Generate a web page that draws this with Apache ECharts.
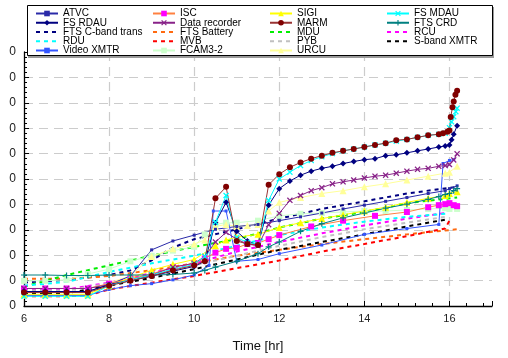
<!DOCTYPE html>
<html>
<head>
<meta charset="utf-8">
<script src="https://cdn.jsdelivr.net/npm/echarts@6/dist/echarts.min.js"></script>
<style>
  html, body { margin: 0; padding: 0; background: #fff; }
  #chart { width: 508px; height: 358px; }
</style>
</head>
<body>
<div id="chart"></div>
<script>
// ---- data: [hour, value] ----
const atvc = [[6,5.7],[6.5,5.7],[7,5.7],[7.5,5.7],[8,8.4],[8.5,11.8],[9,22.1],[9.5,25.6],[10,27.9],[10.5,30.2],[11,31.3],[11.5,32.1],[12,33.6],[12.5,35.1],[13,36.6],[13.5,38.2],[14,39.7],[14.5,41.2],[15,42.7],[15.5,44.3],[15.9,45.4],[16,46.2],[16.18,47.3]];
const isc = [[6,6.9],[6.5,6.9],[7,6.9],[7.5,6.9],[8,8.8],[8.5,10.7],[9,12.6],[9.5,15.3],[10,16.8],[10.25,18.7],[10.5,21.0],[10.75,22.5],[11,22.9],[11.25,24.4],[11.5,24.8],[11.75,26.3],[12,27.9],[12.75,31.3],[13.5,33.6],[14.25,35.5],[15,37.0],[15.5,38.9],[15.75,39.7],[15.9,40.1],[16,40.5],[16.1,39.7],[16.18,39.3]];
const sigi = [[6,4.6],[6.5,4.6],[7,4.6],[7.5,4.6],[8,8.0],[8.5,11.1],[9,14.1],[9.5,16.4],[10,18.3],[10.5,23.7],[10.75,26.0],[11,27.1],[11.5,28.2],[12,30.9],[12.5,32.8],[13,34.4],[13.5,35.9],[14,37.4],[14.5,38.9],[15,40.8],[15.5,42.4],[15.9,43.5],[16,44.3],[16.18,45.0]];
const fsMdau = [[6,3.8],[6.5,3.8],[7,3.8],[7.5,3.8],[8,8.0],[8.5,10.3],[9,12.2],[9.5,14.5],[10,16.4],[10.25,19.5],[10.5,33.0],[10.75,43.5],[11,27.0],[11.25,25.0],[11.5,24.4],[11.75,41.6],[12,50.0],[12.25,52.7],[12.5,55.3],[12.75,57.3],[13,58.8],[13.25,60.0],[13.5,61.1],[13.75,61.8],[14,62.6],[14.25,63.4],[14.5,64.1],[14.75,64.9],[15,65.6],[15.25,66.4],[15.5,67.2],[15.75,67.6],[15.9,68.0],[16,70.2],[16.05,72.5],[16.1,74.5],[16.15,76.5],[16.18,77.9]];
const fsRdau = [[6,5.7],[6.5,5.7],[7,5.7],[7.5,5.7],[8,8.4],[8.5,9.9],[9,11.8],[9.5,13.7],[10,15.6],[10.25,17.6],[10.5,32.8],[10.75,40.8],[11,29.4],[11.25,25.6],[11.5,24.0],[11.75,39.7],[12,46.2],[12.25,49.2],[12.5,51.5],[12.75,53.1],[13,54.2],[13.25,55.0],[13.5,56.1],[13.75,56.9],[14,57.6],[14.25,58.0],[14.5,59.2],[14.75,59.5],[15,60.3],[15.25,61.1],[15.5,61.8],[15.75,62.6],[15.9,63.0],[16,63.4],[16.05,65.5],[16.1,67.6],[16.18,71.0]];
const dataRecorder = [[6,6.9],[6.5,6.9],[7,6.9],[7.5,6.9],[8,8.4],[8.5,10.3],[9,12.2],[9.5,15.3],[10,16.8],[10.25,19.5],[10.5,25.2],[10.75,29.0],[11,26.3],[11.25,24.4],[11.5,23.7],[11.75,32.0],[12,36.5],[12.25,41.6],[12.5,43.5],[12.75,45.4],[13,46.6],[13.25,48.1],[13.5,48.9],[13.75,49.6],[14,50.4],[14.25,51.1],[14.5,51.5],[14.75,52.3],[15,53.1],[15.25,53.8],[15.5,54.2],[15.75,55.0],[15.9,55.3],[16,55.7],[16.1,57.5],[16.18,59.9]];
const marm = [[6,5.3],[6.5,5.3],[7,5.3],[7.5,5.3],[8,8.0],[8.5,9.9],[9,11.8],[9.5,14.1],[10,16.0],[10.25,17.6],[10.5,42.4],[10.75,46.9],[11,25.6],[11.25,24.4],[11.5,24.0],[11.75,47.7],[12,51.9],[12.25,54.6],[12.5,56.5],[12.75,58.0],[13,59.2],[13.25,60.3],[13.5,61.1],[13.75,61.8],[14,62.6],[14.25,63.4],[14.5,64.1],[14.75,65.3],[15,65.6],[15.25,66.4],[15.5,67.2],[15.75,67.6],[15.85,68.0],[15.95,68.6],[16,69.1],[16.03,74.4],[16.07,78.2],[16.1,80.5],[16.14,83.2],[16.18,84.7]];
const ftsCrd = [[6,12.2],[6.5,12.2],[7,12.0],[7.5,12.0],[8,12.2],[8.5,12.2],[9,12.2],[9.5,12.4],[10,13.0],[10.25,14.0],[10.5,15.3],[11,17.6],[11.5,20.6],[11.75,23.3],[12,25.2],[12.5,29.4],[13,32.4],[13.5,34.7],[14,36.6],[14.5,38.5],[15,40.1],[15.5,42.0],[15.75,43.1],[15.9,43.9],[16,44.3],[16.1,45.4],[16.18,46.2]];
const ftsCband = [[6,9.2],[7,10.3],[8,12.2],[8.5,14.0],[9,18.0],[9.5,23.0],[10,26.3],[11,30.2],[12,34.4],[13,38.2],[14,41.2],[15,44.3],[16.18,46.9]];
const ftsBattery = [[6,10.7],[7,10.7],[8,11.8],[9,14.1],[10,16.8],[11,19.8],[12,22.1],[13,24.4],[14,26.3],[15,28.2],[16.18,30.2]];
const mdu = [[6,7.6],[7,12.2],[8,16.0],[9,19.8],[10,23.3],[11,26.3],[12,30.9],[13,34.4],[14,37.0],[15,40.5],[16.18,42.7]];
const rcu = [[6,6.5],[7,6.5],[8,9.2],[9,13.0],[10,16.8],[11,21.4],[12,25.2],[13,28.6],[14,31.7],[15,34.4],[15.9,36.6]];
const rdu = [[6,8.0],[7,9.5],[8,13.4],[9,16.8],[10,19.8],[11,23.7],[12,27.9],[13,30.9],[14,33.2],[15,35.1],[15.9,36.3]];
const mvb = [[6,3.8],[7,3.8],[7.5,4.2],[8,6.5],[9,9.2],[10,11.8],[11,14.9],[12,17.9],[13,21.4],[14,24.4],[15,27.5],[15.9,30.5],[16,33.6]];
const pyb = [[6,6.1],[7,6.1],[8,8.8],[9,12.2],[10,16.0],[11,19.8],[12,23.7],[13,27.1],[14,30.2],[15,32.8],[15.9,35.1]];
const sBand = [[6,5.0],[7,5.0],[8,8.0],[9,11.1],[10,14.5],[11,18.3],[12,22.1],[13,25.2],[14,28.2],[15,31.3],[15.9,34.0]];
const videoXmtr = [[6,4.2],[6.5,4.2],[7,4.2],[7.5,4.2],[8,6.5],[8.5,8.0],[9,8.8],[9.5,10.3],[10,12.2],[10.35,16.0],[10.45,37.4],[10.75,37.4],[11,17.6],[11.5,18.3],[12,20.6],[13,24.0],[14,28.2],[15,30.5],[15.75,32.1],[15.85,56.1],[16,57.3],[16.1,57.6]];
const fcam = [[6,9.9],[6.5,9.9],[7,10.3],[7.5,12.6],[8,14.5],[8.5,17.6],[9,19.8],[9.5,21.8],[10,23.3],[10.25,28.2],[10.5,32.1],[10.75,32.8],[11,32.8],[11.5,33.6],[12,35.5],[12.5,36.3],[13,36.6],[13.5,37.0],[14,37.4],[14.5,37.4],[15,37.8],[15.5,38.2],[15.9,38.5],[16,38.2],[16.18,38.2]];
const urcu = [[6,4.2],[6.5,4.2],[7,4.2],[7.5,4.2],[8,9.2],[8.5,11.8],[9,19.5],[9.5,22.5],[10,24.4],[10.25,26.0],[10.5,31.3],[10.75,32.1],[11,31.3],[11.25,31.7],[11.5,32.1],[11.75,37.4],[12,40.8],[12.5,42.7],[13,44.3],[13.5,45.4],[14,46.9],[14.5,48.1],[15,49.6],[15.5,51.1],[15.9,52.3],[16,52.7],[16.18,55.0]];

// legend columns, read top to bottom
const legendCols = [
  ["ATVC", "FS RDAU", "FTS C-band trans", "RDU", "Video XMTR"],
  ["ISC", "Data recorder", "FTS Battery", "MVB", "FCAM3-2"],
  ["SIGI", "MARM", "MDU", "PYB", "URCU"],
  ["FS MDAU", "FTS CRD", "RCU", "S-band XMTR"],
];
const dashedNames = ["FTS C-band trans", "FTS Battery", "MDU", "RCU", "RDU", "MVB", "PYB", "S-band XMTR"];

const FONT = "Liberation Sans, Arial, sans-serif";
const xMark = "path://M0,1.5L1.5,0L5,3.5L8.5,0L10,1.5L6.5,5L10,8.5L8.5,10L5,6.5L1.5,10L0,8.5L3.5,5Z";
const plusMark = "path://M4,0H6V4H10V6H6V10H4V6H0V4H4Z";

function solid(name, data, color, symbol, size, lineColor) {
  return {
    name, type: "line", data,
    symbol, symbolSize: size,
    itemStyle: { color },
    lineStyle: { color: lineColor || color, width: 1 },
    emphasis: { disabled: true },
  };
}

function dashed(name, data, color) {
  return {
    name, type: "line", data,
    symbol: "none",
    itemStyle: { color },
    lineStyle: { color, width: 2, type: [4, 4] },
    emphasis: { disabled: true },
  };
}

const series = [
  dashed("FTS C-band trans", ftsCband, "#000080"),
  dashed("FTS Battery", ftsBattery, "#ff6a10"),
  dashed("MDU", mdu, "#00ee00"),
  dashed("RCU", rcu, "#ff00ff"),
  dashed("RDU", rdu, "#00ffff"),
  dashed("MVB", mvb, "#ff0000"),
  dashed("PYB", pyb, "#c0c0c0"),
  dashed("S-band XMTR", sBand, "#000000"),
  solid("FCAM3-2", fcam, "#ccffcc", "rect", 6),
  solid("URCU", urcu, "#ffff99", "triangle", 7),
  solid("Video XMTR", videoXmtr, "#3355ff", "rect", 3),
  solid("ATVC", atvc, "#2a2aa8", "rect", 3),
  solid("ISC", isc, "#ff00ff", "rect", 6, "#ff8040"),
  solid("SIGI", sigi, "#ffff00", "triangle", 7),
  solid("FTS CRD", ftsCrd, "#008080", plusMark, 6),
  solid("Data recorder", dataRecorder, "#882288", xMark, 6),
  solid("FS RDAU", fsRdau, "#000080", "diamond", 6),
  solid("FS MDAU", fsMdau, "#00ffff", xMark, 6),
  solid("MARM", marm, "#800000", "circle", 6, "#993333"),
];

const legends = legendCols.map((col, i) => ({
  data: col.map((name) =>
    dashedNames.includes(name) ? { name, itemStyle: { opacity: 0 } } : { name }
  ),
  orient: "vertical",
  left: 35 + i * 117,
  top: 8.5,
  padding: 0,
  itemGap: -0.75,
  itemWidth: 22,
  itemHeight: 7,
  selectedMode: false,
  textStyle: { fontSize: 10, color: "#000", lineHeight: 9.3, fontFamily: FONT },
  z: 10,
}));

const chart = echarts.init(document.getElementById("chart"));

chart.setOption({
  animation: false,
  textStyle: { fontFamily: FONT },
  grid: { left: 24, right: 16, top: 52, bottom: 44 },
  xAxis: {
    type: "value",
    min: 6,
    max: 17,
    interval: 2,
    name: "Time [hr]",
    nameLocation: "middle",
    nameGap: 34,
    nameTextStyle: { fontSize: 13, color: "#111", fontFamily: FONT },
    axisLine: { lineStyle: { color: "#000", width: 1.3 } },
    axisTick: { inside: true, length: 5, lineStyle: { color: "#000" } },
    minorTick: { show: true, splitNumber: 5, length: 3, lineStyle: { color: "#000" } },
    axisLabel: { fontSize: 11, color: "#222", margin: 7, showMaxLabel: false, fontFamily: FONT },
    splitLine: {
      show: true, showMinLine: false, showMaxLine: false,
      lineStyle: { color: "#cccccc", width: 1.2, type: [9, 6] },
    },
  },
  yAxis: {
    type: "value",
    min: 0,
    max: 100,
    interval: 10,
    axisLine: { show: true, lineStyle: { color: "#000", width: 1.3 } },
    axisTick: { show: true, inside: true, length: 5, lineStyle: { color: "#000" } },
    minorTick: { show: true, splitNumber: 5, length: 3, lineStyle: { color: "#000" } },
    // leading digits are cut off by the frame edge in the source, only the last one shows
    axisLabel: {
      fontSize: 12, color: "#222", margin: 8, fontFamily: FONT,
      formatter: (v) => String(v).slice(-1),
    },
    splitLine: {
      show: true, showMinLine: false,
      lineStyle: { color: "#cccccc", width: 1.2, type: [9, 6] },
    },
  },
  legend: legends,
  graphic: [
    { type: "rect", z: 5, shape: { x: 28, y: 7, width: 466, height: 51 }, style: { fill: "#9a9a9a" } },
    { type: "rect", z: 6, shape: { x: 27.5, y: 5.5, width: 465, height: 50 }, style: { fill: "#fff", stroke: "#000", lineWidth: 1 } },
  ],
  series,
});

window.addEventListener("resize", () => chart.resize());
</script>
</body>
</html>
